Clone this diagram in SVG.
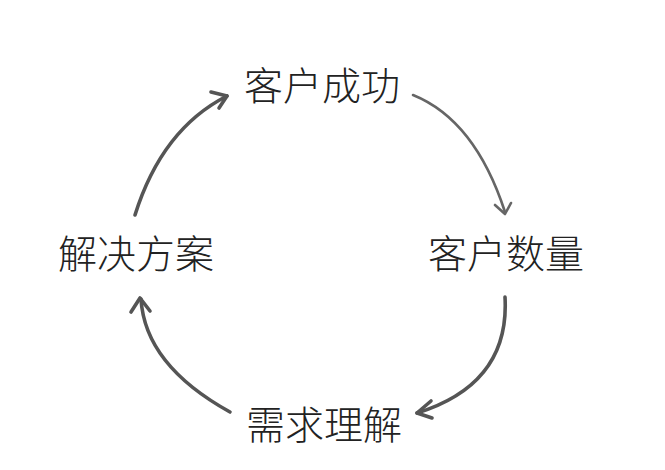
<svg xmlns="http://www.w3.org/2000/svg" width="665" height="470" viewBox="0 0 665 470">
<style>
.lbl{font-family:"Noto Sans CJK SC","Noto Sans",sans-serif;font-size:39px;fill:#222;text-anchor:middle;font-weight:300}
.arc{fill:none;stroke:#555;stroke-width:3.6;stroke-linecap:round;stroke-linejoin:round}
.thin{stroke:#666;stroke-width:2.6}
</style>
<rect width="665" height="470" fill="#fff"/>
<g id="connectors">
<path class="arc thin" d="M413,95 Q475,120 505,212"/>
<path class="arc thin" d="M495,205 L505,214 L511,203"/>
<path class="arc" d="M135,215 Q162,129 227,96"/>
<path class="arc" d="M211,92 L227,96 L219,108"/>
<path class="arc" d="M505,297 Q510,384 417,413"/>
<path class="arc" d="M431,401 L417,413 L432,418"/>
<path class="arc" d="M230,412 Q145,365 141,299"/>
<path class="arc" d="M131,312 L140,298 L150,311"/>
</g>
<g id="node-success"><text class="lbl" x="322" y="100">客户成功</text></g>
<g id="node-count"><text class="lbl" x="506" y="268">客户数量</text></g>
<g id="node-understand"><text class="lbl" x="324" y="439">需求理解</text></g>
<g id="node-solution"><text class="lbl" x="136" y="268">解决方案</text></g>
</svg>
